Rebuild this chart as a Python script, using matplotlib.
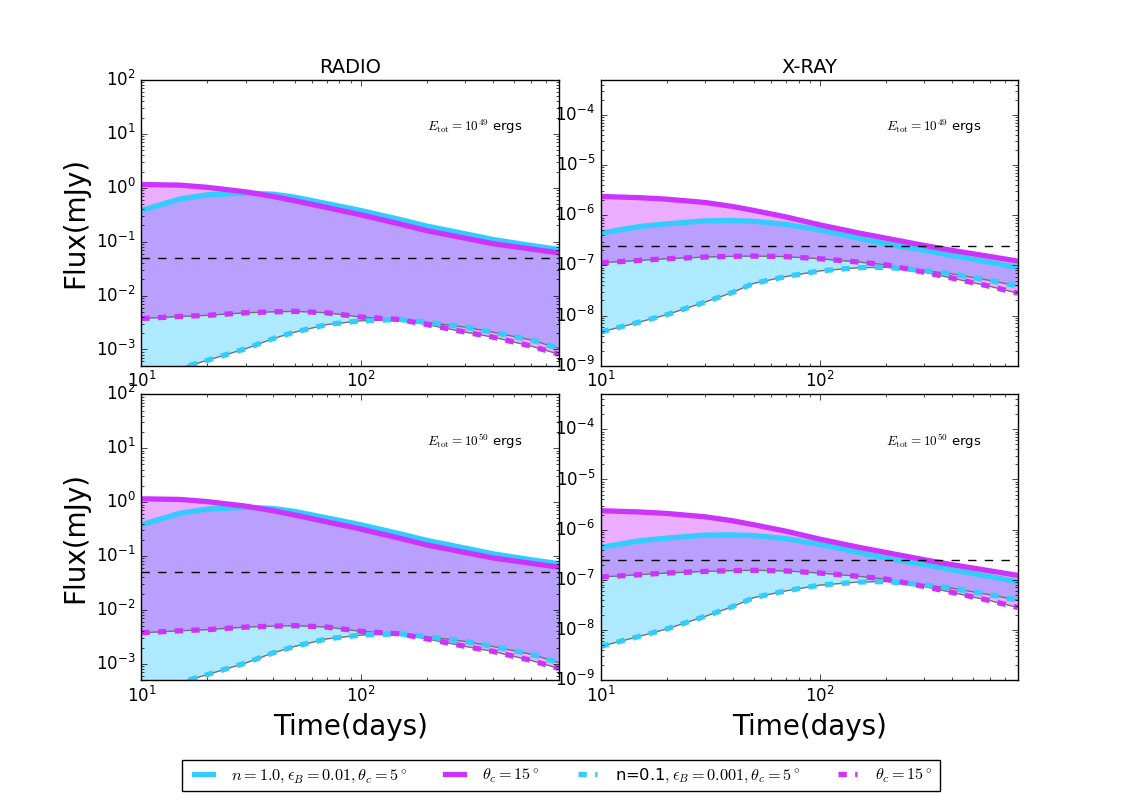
import numpy as np
import matplotlib
matplotlib.use("Agg")
import matplotlib.pyplot as plt

plt.style.use("classic")
plt.rcParams["figure.facecolor"] = "white"
plt.rcParams["savefig.facecolor"] = "white"

t = [10, 15, 20, 30, 40, 50, 70, 100, 150, 200, 300, 400, 600, 800]

# RADIO flux (mJy)
radio_n1_solid = [0.38, 0.62, 0.74, 0.80, 0.76, 0.67, 0.51, 0.38, 0.26, 0.195, 0.14, 0.11, 0.085, 0.072]
radio_n1_th15 = [1.15, 1.12, 1.02, 0.84, 0.69, 0.575, 0.43, 0.316, 0.214, 0.16, 0.116, 0.092, 0.073, 0.062]
radio_n01_dash = [0.00026, 0.00045, 0.00063, 0.00104, 0.0016, 0.0021, 0.0029, 0.0034, 0.0036, 0.0032, 0.0026, 0.0021, 0.0015, 0.00105]
radio_n01_th15 = [0.00375, 0.0041, 0.0043, 0.0048, 0.0050, 0.0051, 0.0048, 0.0040, 0.0036, 0.0029, 0.0021, 0.0017, 0.00115, 0.00082]

# X-RAY flux (mJy)
xray_n1_solid = [4.4e-7, 5.96e-7, 6.75e-7, 7.76e-7, 7.85e-7, 7.6e-7, 6.6e-7, 5.1e-7, 3.5e-7, 2.7e-7, 2.0e-7, 1.58e-7, 1.15e-7, 9.1e-8]
xray_n1_th15 = [2.38e-6, 2.25e-6, 2.1e-6, 1.8e-6, 1.5e-6, 1.25e-6, 9.3e-7, 6.45e-7, 4.45e-7, 3.5e-7, 2.5e-7, 2.0e-7, 1.5e-7, 1.22e-7]
xray_n01_dash = [4.67e-9, 7.4e-9, 1.04e-8, 1.86e-8, 2.9e-8, 4.4e-8, 6.0e-8, 7.8e-8, 9.0e-8, 9.2e-8, 7.9e-8, 6.8e-8, 5.0e-8, 3.9e-8]
xray_n01_th15 = [1.13e-7, 1.26e-7, 1.36e-7, 1.47e-7, 1.52e-7, 1.54e-7, 1.5e-7, 1.36e-7, 1.17e-7, 1.03e-7, 7.3e-8, 5.6e-8, 3.8e-8, 2.8e-8]

radio_limit = 0.05
xray_limit = 2.45e-7
energies = [49, 50]

labels = [r"$n=1.0,\epsilon_B=0.01,\theta_c=5^\circ$",
          r"$\theta_c=15^\circ$",
          r"n=0.1$,\epsilon_B=0.001,\theta_c=5^\circ$",
          r"$\theta_c=15^\circ$"]

cyan = "#33ccff"
mag = "#cc33ff"

panels = {
    "RADIO": (radio_n1_solid, radio_n1_th15, radio_n01_dash, radio_n01_th15, radio_limit, (5e-4, 1e2)),
    "X-RAY": (xray_n1_solid, xray_n1_th15, xray_n01_dash, xray_n01_th15, xray_limit, (1e-9, 5e-4)),
}

fig, axes = plt.subplots(2, 2, figsize=(11.31, 8), dpi=100)
fig.subplots_adjust(left=0.125, right=0.9, bottom=0.15, top=0.9, wspace=0.1, hspace=0.1)

handles = []
for row, E in enumerate(energies):
    for col, name in enumerate(panels):
        ax = axes[row, col]
        c_sol, m_sol, c_dash, m_dash, lim, ylim = panels[name]

        ax.fill_between(t, c_dash, c_sol, color=cyan, alpha=0.4, linewidth=0)
        ax.fill_between(t, m_dash, m_sol, color=mag, alpha=0.4, linewidth=0)
        ax.plot(t, c_dash, color="0.45", lw=1)
        ax.plot(t, m_dash, color="0.45", lw=1)

        h1, = ax.plot(t, c_sol, color=cyan, lw=3.8)
        h2, = ax.plot(t, m_sol, color=mag, lw=3.8)
        h3, = ax.plot(t, c_dash, color=cyan, lw=3.8, ls="--")
        h4, = ax.plot(t, m_dash, color=mag, lw=3.8, ls="--")
        ax.axhline(lim, color="k", lw=1, ls="--")

        ax.set_xscale("log")
        ax.set_yscale("log")
        ax.set_xlim(10, 800)
        ax.set_ylim(*ylim)

        ax.text(0.685, 0.835, r"$E_{\rm tot}=10^{%d}$" % E + " ergs",
                transform=ax.transAxes, fontsize=9.5, ha="left", va="center",
                math_fontfamily="cm")

        if row == 0:
            ax.set_title(name, fontsize=14)
            handles = [h1, h2, h3, h4]
        else:
            ax.set_xlabel("Time(days)", fontsize=20)
        if col == 0:
            ax.set_ylabel("Flux(mJy)", fontsize=20)

fig.legend(handles, labels, loc="center", bbox_to_anchor=(0.496, 0.0306),
           ncol=4, prop={"size": 11.7}, handlelength=1.8, columnspacing=2.0,
           fancybox=False, borderpad=0.4)

fig.savefig("out.png", dpi=100)
